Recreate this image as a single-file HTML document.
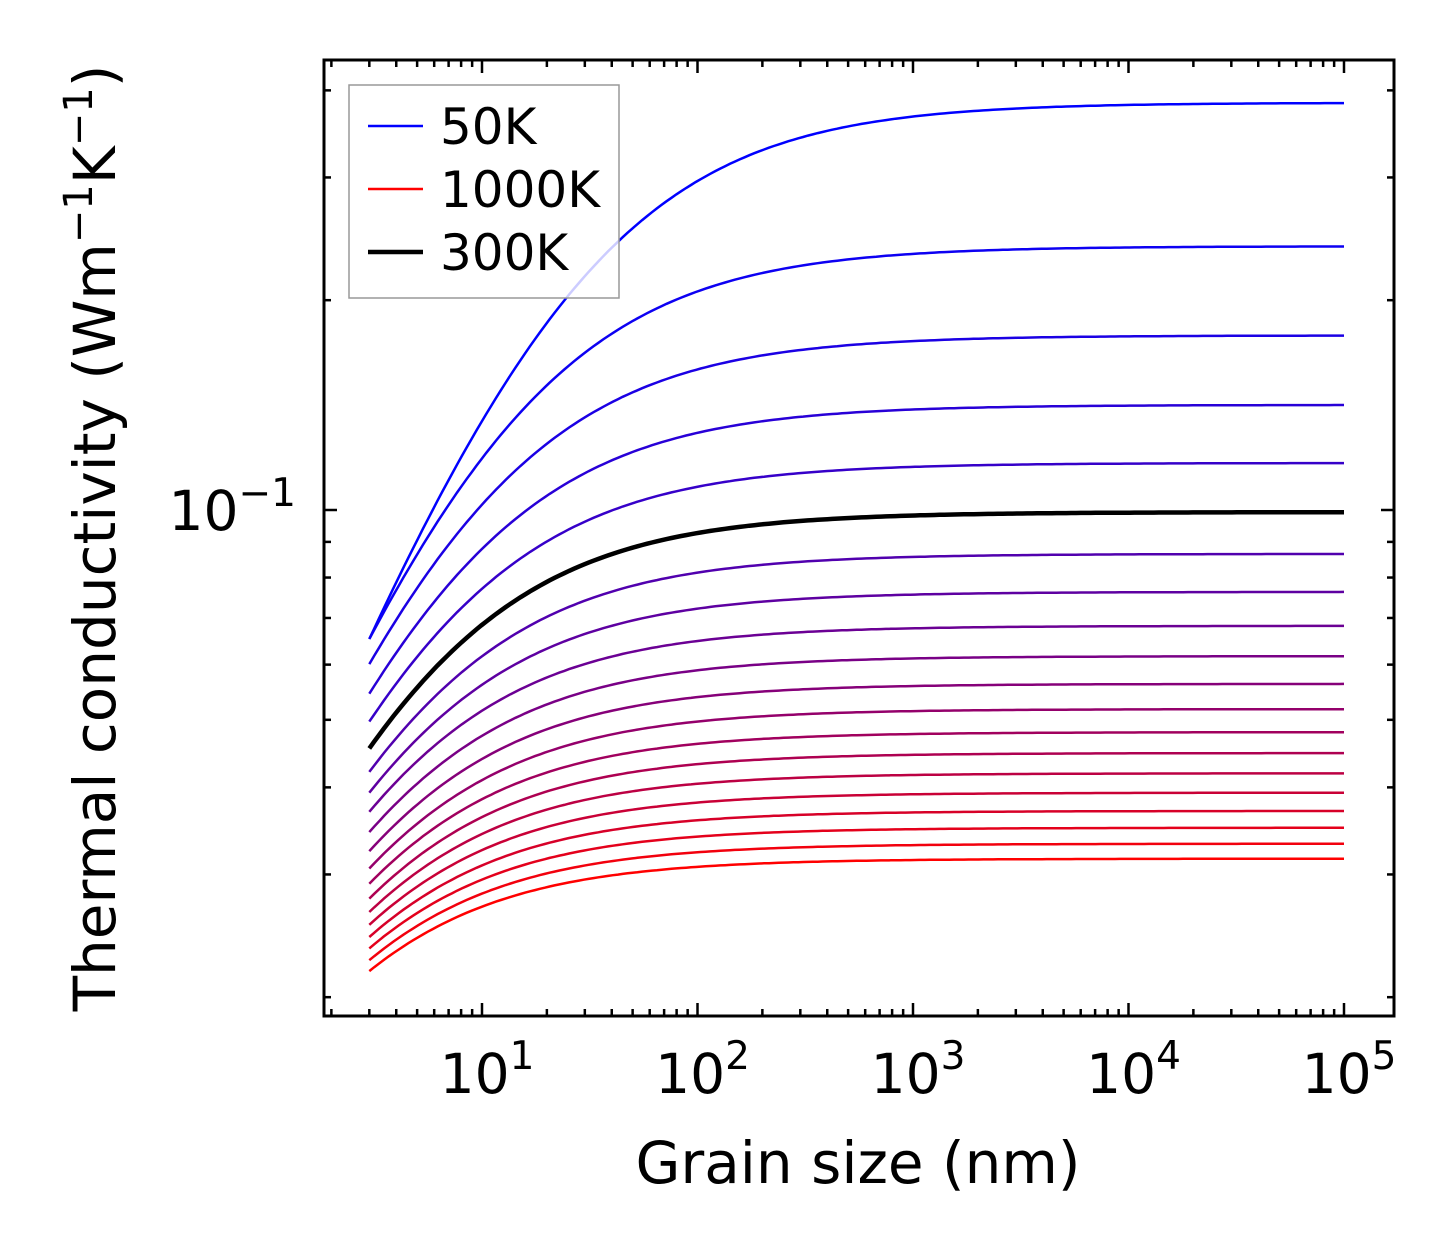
<!DOCTYPE html>
<html><head><meta charset="utf-8"><style>
body{margin:0;background:#fff}
svg text{font-family:"DejaVu Sans","Liberation Sans",sans-serif;fill:#000}
</style></head><body>
<svg id="chart" width="1454" height="1254" viewBox="0 0 1454 1254" xmlns="http://www.w3.org/2000/svg">
<g id="curves"></g>
<g id="ticks"></g>
<rect x="324" y="60" width="1070" height="956" fill="none" stroke="#000" stroke-width="3"/>
<g id="xlabels"></g>
<text x="296" y="530" font-size="55" text-anchor="end">10<tspan dy="-24" font-size="39">−1</tspan></text>
<text x="858" y="1183" font-size="58" text-anchor="middle">Grain size (nm)</text>
<text transform="translate(115,538) rotate(-90)" font-size="58" text-anchor="middle">Thermal conductivity (Wm<tspan dy="-23" font-size="40">−1</tspan><tspan dy="23">K</tspan><tspan dy="-23" font-size="40">−1</tspan><tspan dy="23">)</tspan></text>
<g>
<rect x="349" y="85" width="270" height="213" fill="#fff" fill-opacity="0.8" stroke="#999" stroke-width="1.5"/>
<line x1="368" y1="126" x2="423" y2="126" stroke="#0000ff" stroke-width="2.5"/>
<text x="440" y="144" font-size="50">50K</text>
<line x1="368" y1="189" x2="423" y2="189" stroke="#ff0000" stroke-width="2.5"/>
<text x="440" y="207" font-size="50">1000K</text>
<line x1="368" y1="252" x2="423" y2="252" stroke="#000" stroke-width="4.5"/>
<text x="440" y="270" font-size="50">300K</text>
</g>
</svg>
<script>
const temps=[50,100,150,200,250,300,350,400,450,500,550,600,650,700,750,800,850,900,950,1000];
const bulkK=[0.384,0.239,0.178,0.1415,0.1168,0.0993,0.0865,0.0763,0.0682,0.0617,0.0563,0.0518,0.0480,0.0448,0.0419,0.0393,0.0370,0.0350,0.0332,0.0316];
const startK=[0.0653,0.0653,0.0601,0.0545,0.0497,0.0455,0.0421,0.0393,0.0369,0.0345,0.0324,0.0306,0.0291,0.0277,0.0265,0.0254,0.0244,0.0235,0.0226,0.0218];
const xTickVals=[1,2,3,4,5];
const L0=3,L1=1e5;
const NS="http://www.w3.org/2000/svg";
function xs(v){return 266.5+215.5*Math.log10(v);}
function ys(v){return 510-697*Math.log10(v/0.1);}
const cg=document.getElementById('curves');
const order=temps.map((t,i)=>i).filter(i=>temps[i]!==300).concat([temps.indexOf(300)]);
order.forEach(i=>{
  const kb=bulkK[i],k0=startK[i];
  const Lc=L0*Math.pow(kb/k0-1,1/0.8);
  let d="";
  for(let j=0;j<=200;j++){
    const L=Math.pow(10,Math.log10(L0)+j/200*(Math.log10(L1)-Math.log10(L0)));
    const k=kb/(1+Math.pow(Lc/L,0.8));
    d+=(j?"L":"M")+xs(L).toFixed(1)+","+ys(k).toFixed(1);
  }
  const p=document.createElementNS(NS,'path');
  const f=i/(temps.length-1);
  const col=temps[i]===300?"#000":"rgb("+Math.round(255*f)+",0,"+Math.round(255*(1-f))+")";
  p.setAttribute('d',d);p.setAttribute('fill','none');p.setAttribute('stroke',col);
  p.setAttribute('stroke-width',temps[i]===300?4.5:2.5);
  
  
  cg.appendChild(p);
});
const tg=document.getElementById('ticks');
function tick(x1,y1,x2,y2,nm){const l=document.createElementNS(NS,'line');
l.setAttribute('x1',x1);l.setAttribute('y1',y1);l.setAttribute('x2',x2);l.setAttribute('y2',y2);
l.setAttribute('stroke','#000');l.setAttribute('stroke-width',2.5);


tg.appendChild(l);}
for(let e=0;e<=5;e++)for(let m=1;m<10;m++){const v=m*Math.pow(10,e);const x=xs(v);
 if(x<324||x>1394)continue;const len=m===1?13:7;
 tick(x,1016,x,1016-len,'x-tick');tick(x,60,x,60+len,'x-tick-top');}
const yt=[0.02,0.03,0.04,0.05,0.06,0.07,0.08,0.09,0.1,0.2,0.3,0.4];
yt.forEach(v=>{const y=ys(v);const len=v===0.1?13:7;tick(324,y,324+len,y,'y-tick');tick(1394,y,1394-len,y,'y-tick-right');});
const xl=document.getElementById('xlabels');
xTickVals.forEach(e=>{const t=document.createElementNS(NS,'text');
 t.setAttribute('x',xs(Math.pow(10,e))+5);t.setAttribute('y',1093);t.setAttribute('font-size',55);t.setAttribute('text-anchor','middle');
 t.innerHTML='10<tspan dy="-24" font-size="39">'+e+'</tspan>';
 
 
 xl.appendChild(t);});
</script>
</body></html>
